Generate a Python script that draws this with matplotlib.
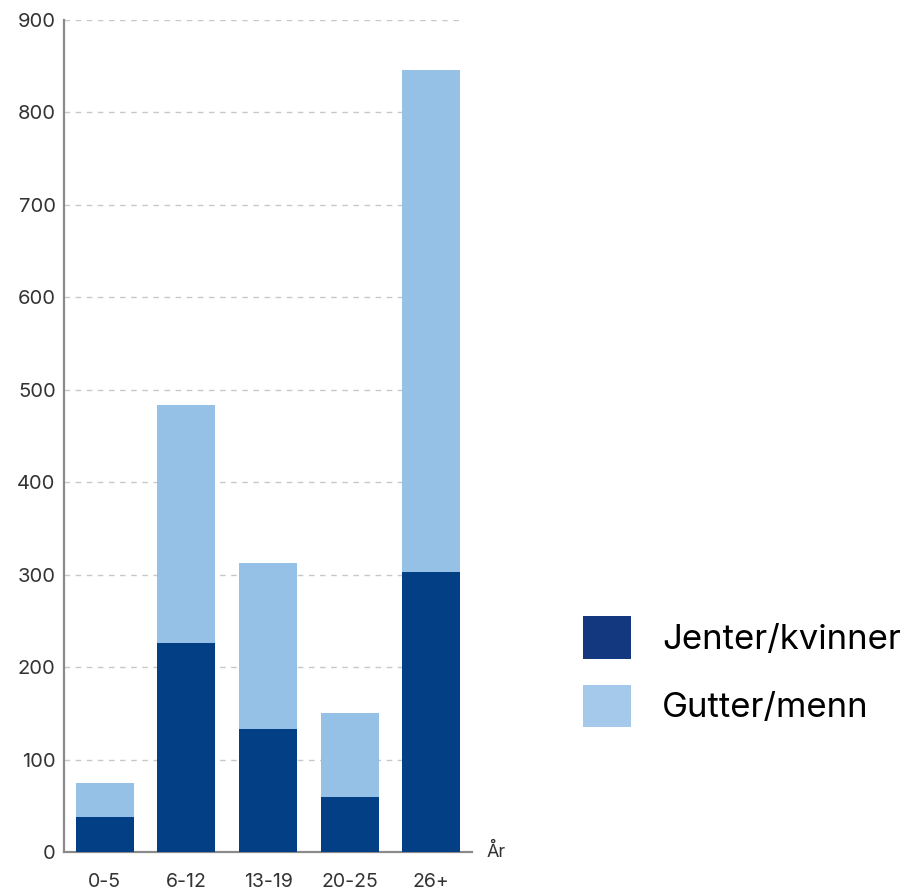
import matplotlib
matplotlib.use("Agg")
import matplotlib.pyplot as plt
from matplotlib.patches import Patch

categories = ["0-5", "6-12", "13-19", "20-25", "26+"]
jenter = [38, 226, 133, 60, 303]
gutter = [37, 258, 180, 90, 543]
yticks = [0, 100, 200, 300, 400, 500, 600, 700, 800, 900]

plt.rcParams['font.family'] = ['Inter', 'DejaVu Sans']

fig = plt.figure(figsize=(9.08, 8.9), dpi=100)
ax = fig.add_axes([64/908, 38/890, (472-64)/908, (852-20)/890])

x = list(range(len(categories)))
dark = "#033f85"
light = "#96c1e7"
ax.bar(x, jenter, width=0.71, color=dark, zorder=3)
ax.bar(x, gutter, width=0.71, bottom=jenter, color=light, zorder=3)

ax.set_xlim(-0.5, 4.5)
ax.set_ylim(0, 900)
ax.set_yticks(yticks)
ax.set_xticks(x)
ax.set_xticklabels(categories)
ax.tick_params(axis='y', length=0, labelsize=14.5, labelcolor="#333333", pad=6)
ax.tick_params(axis='x', length=0, labelsize=14, labelcolor="#333333", pad=15)
for yv in yticks[1:]:
    ax.axhline(yv, xmin=0, xmax=0.97, linestyle=(0, (4, 4)), color="#c8c8c8",
               linewidth=1, zorder=0)
for s in ["top", "right"]:
    ax.spines[s].set_visible(False)
for s in ["left", "bottom"]:
    ax.spines[s].set_color("#8a8a8a")
    ax.spines[s].set_linewidth(1.6)

ax.text(1.035, 0.0, "År", transform=ax.transAxes, fontsize=13, color="#333333",
        ha="left", va="center")

handles = [Patch(facecolor="#14387f", label="Jenter/kvinner"),
           Patch(facecolor="#a5c9eb", label="Gutter/menn")]
fig.legend(handles=handles, loc="upper left", bbox_to_anchor=(583/908, 1-616/890),
           frameon=False, fontsize=25, handlelength=1.38, handleheight=1.52,
           handletextpad=0.9, labelspacing=0.74, borderpad=0, borderaxespad=0)

fig.savefig("out.png", dpi=100)
